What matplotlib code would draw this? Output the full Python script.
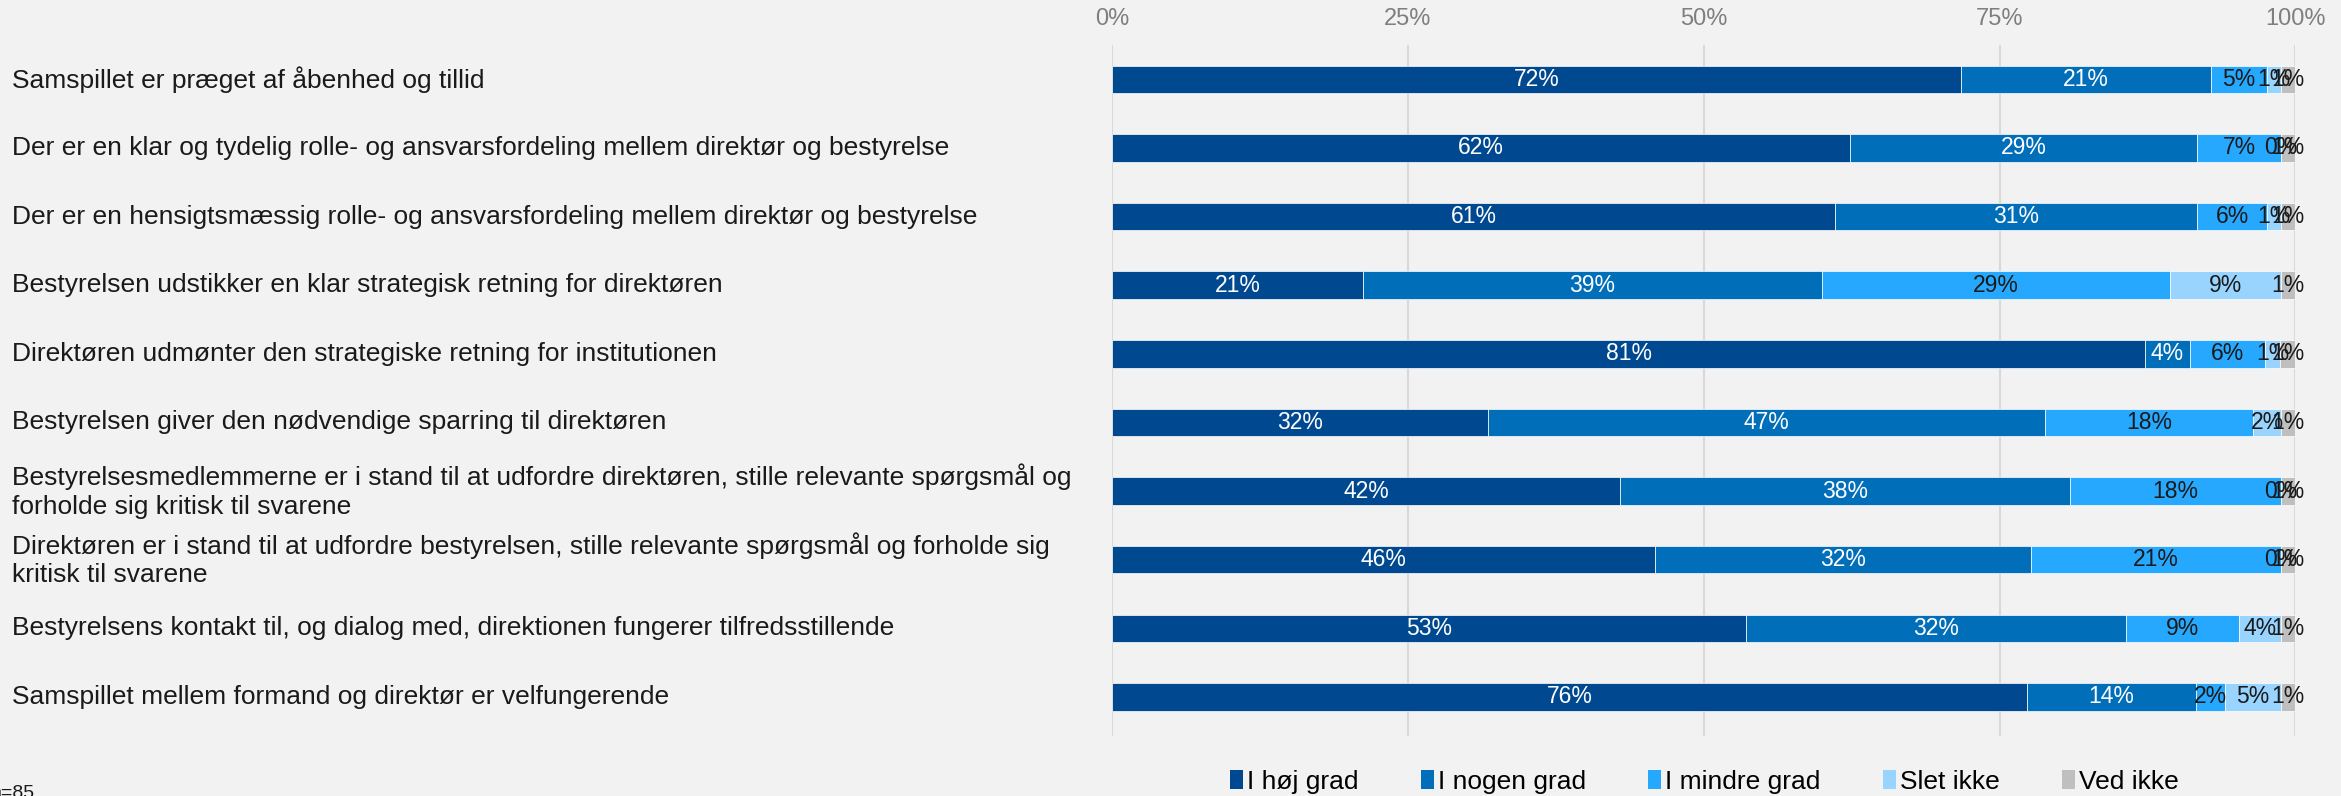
import matplotlib
matplotlib.use("Agg")
import matplotlib.pyplot as plt
import matplotlib.transforms as mtransforms
from matplotlib.patches import Patch
import numpy as np

plt.rcParams['font.family'] = ['Liberation Sans', 'DejaVu Sans']

categories = [
    "Samspillet er præget af åbenhed og tillid",
    "Der er en klar og tydelig rolle- og ansvarsfordeling mellem direktør og bestyrelse",
    "Der er en hensigtsmæssig rolle- og ansvarsfordeling mellem direktør og bestyrelse",
    "Bestyrelsen udstikker en klar strategisk retning for direktøren",
    "Direktøren udmønter den strategiske retning for institutionen",
    "Bestyrelsen giver den nødvendige sparring til direktøren",
    "Bestyrelsesmedlemmerne er i stand til at udfordre direktøren, stille relevante spørgsmål og\nforholde sig kritisk til svarene",
    "Direktøren er i stand til at udfordre bestyrelsen, stille relevante spørgsmål og forholde sig\nkritisk til svarene",
    "Bestyrelsens kontakt til, og dialog med, direktionen fungerer tilfredsstillende",
    "Samspillet mellem formand og direktør er velfungerende",
]

series_names = ["I høj grad", "I nogen grad", "I mindre grad", "Slet ikke", "Ved ikke"]

# answer shares in percent (raw, labels show these rounded)
hoej_grad = [71.8, 62.4, 61.2, 21.2, 81.2, 31.8, 42.4, 45.9, 52.9, 76.4]
nogen_grad = [21.2, 29.4, 30.6, 38.8, 3.5, 47.1, 37.6, 31.8, 31.8, 14.1]
mindre_grad = [4.7, 7.1, 5.9, 29.4, 5.9, 17.6, 17.6, 21.2, 9.4, 2.4]
slet_ikke = [1.2, 0.0, 1.2, 9.4, 1.2, 2.4, 0.0, 0.0, 3.5, 4.7]
ved_ikke = [1.2, 1.2, 1.2, 1.2, 1.2, 1.2, 1.2, 1.2, 1.2, 1.2]

x_ticks = [0, 25, 50, 75, 100]
n_text = "n=85"

colors = ["#004990", "#006EB9", "#27A8FF", "#99D4FF", "#BFBFBF"]
label_colors = ["white", "white", "#1a1a1a", "#1a1a1a", "#1a1a1a"]
bg = "#F2F2F2"

data = np.array([hoej_grad, nogen_grad, mindre_grad, slet_ikke, ved_ikke])
shares = data / data.sum(axis=0) * 100  # 100% stacked

fig = plt.figure(figsize=(23.41, 7.96), dpi=100, facecolor=bg)
ax = fig.add_axes([0.475, 0.0754, 0.5055, 0.868])
ax.set_facecolor(bg)

y = np.arange(len(categories))
left = np.zeros(len(categories))
for i, name in enumerate(series_names):
    ax.barh(y, shares[i], left=left, height=0.4, color=colors[i],
            edgecolor="white", linewidth=0.5, label=name, zorder=3)
    for j in range(len(categories)):
        xc = left[j] + shares[i][j] / 2
        ax.text(xc, y[j], f"{int(data[i][j] + 0.5)}%", ha="center", va="center",
                fontsize=16.5, color=label_colors[i], zorder=4)
    left += shares[i]

ax.set_xlim(0, 100)
ax.set_ylim(9.57, -0.5)
ax.xaxis.tick_top()
ax.set_xticks(x_ticks)
ax.set_xticklabels([f"{t}%" for t in x_ticks])
ax.tick_params(axis="x", length=0, pad=11, labelsize=17, labelcolor="#7F7F7F")
ax.set_yticks([])
ax.grid(axis="x", color="#D9D9D9", linewidth=1.5, zorder=0)
for s in ax.spines.values():
    s.set_visible(False)

trans = mtransforms.blended_transform_factory(fig.transFigure, ax.transData)
for j, cat in enumerate(categories):
    ax.text(0.005, y[j], cat, transform=trans, ha="left", va="center",
            fontsize=19, color="#1a1a1a", linespacing=1.25)

handles = [Patch(facecolor=c, edgecolor="none") for c in colors]
fig.legend(handles, series_names, loc="center", bbox_to_anchor=(0.728, 0.018),
           ncol=5, frameon=False, fontsize=19, handlelength=0.5, handleheight=0.7,
           handletextpad=0.15, columnspacing=2.35)

fig.text(-0.004, -0.007, n_text, ha="left", va="bottom", fontsize=14, color="#1a1a1a")

fig.savefig("out.png", dpi=100, facecolor=bg)
